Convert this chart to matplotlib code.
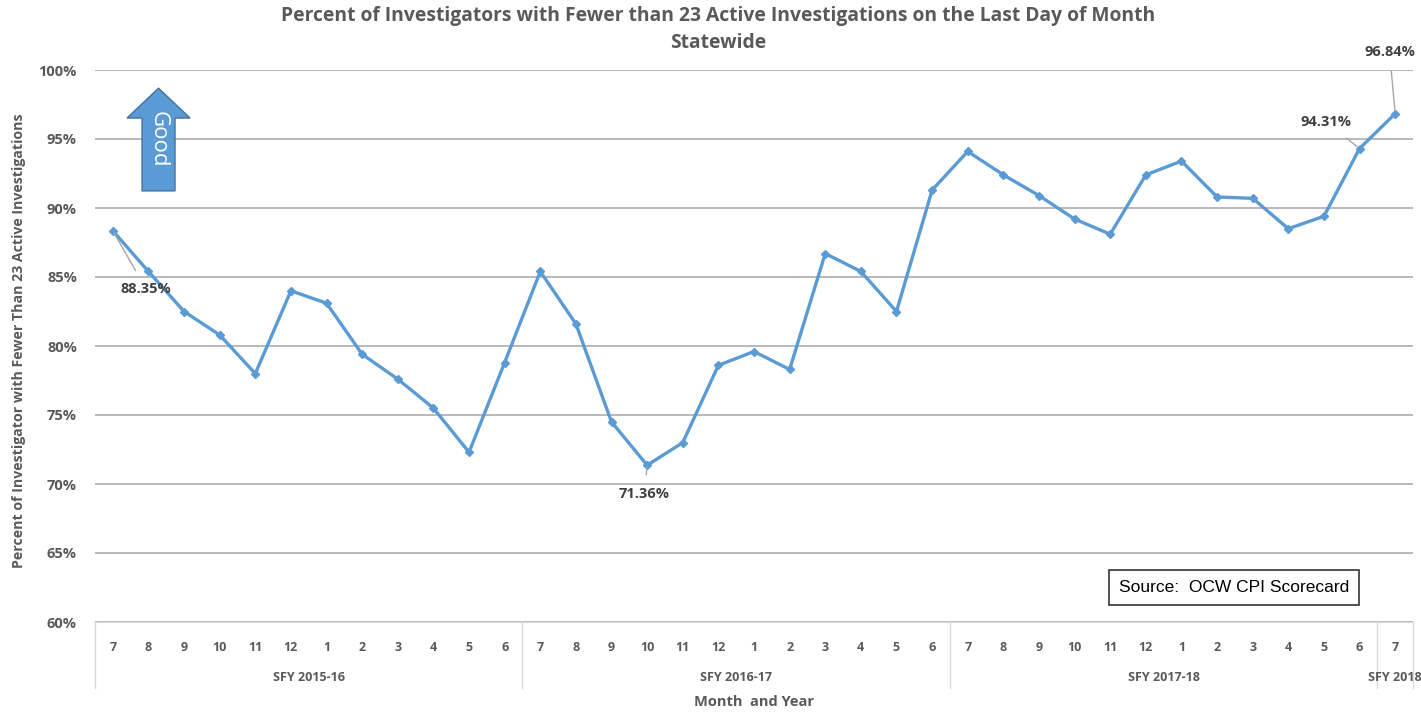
import matplotlib.pyplot as plt
import matplotlib.transforms as mtransforms
from matplotlib.patches import Polygon
import numpy as np

plt.rcParams['font.family'] = ['Open Sans', 'DejaVu Sans']

# === Data ===
months = ["7", "8", "9", "10", "11", "12", "1", "2", "3", "4", "5", "6"] * 3 + ["7"]
fiscal_years = ["SFY 2015-16", "SFY 2016-17", "SFY 2017-18", "SFY 2018"]
fy_sizes = [12, 12, 12, 1]
pct = [88.35, 85.4, 82.5, 80.8, 78.0, 84.0, 83.1, 79.4, 77.6, 75.5, 72.3, 78.8,
       85.4, 81.6, 74.5, 71.36, 73.0, 78.6, 79.6, 78.3, 86.7, 85.4, 82.5, 91.3,
       94.1, 92.4, 90.9, 89.2, 88.1, 92.4, 93.4, 90.8, 90.7, 88.5, 89.4, 94.31,
       96.84]
# label offsets (in data units) for the points that carry a data label
labelled = {0: (0.93, -4.2), 15: (-0.08, -2.1), 35: (-0.93, 1.9), 36: (-0.16, 4.5)}

GRAY_TXT = "#595959"
LINE_BLUE = "#5b9bd5"

fig = plt.figure(figsize=(14.21, 7.19), dpi=100)
ax = fig.add_axes([95 / 1421, 1 - 622 / 719, 1318 / 1421, 552 / 719])

x = np.arange(len(pct))
ax.plot(x, pct, color=LINE_BLUE, lw=2.4, marker="D", ms=4.5, zorder=3)

ax.set_xlim(-0.5, len(pct) - 0.5)
ax.set_ylim(60, 100)
ax.set_yticks(np.arange(60, 101, 5))
ax.set_yticklabels([f"{v}%" for v in range(60, 101, 5)], fontweight="bold",
                   color=GRAY_TXT, fontsize=10.5)
ax.grid(axis="y", color="#a6a6a6", lw=1.1)
ax.set_axisbelow(True)
for s in ["top", "right", "left"]:
    ax.spines[s].set_visible(False)
ax.spines["bottom"].set_color("#d9d9d9")
ax.tick_params(axis="y", length=0, pad=13)

ax.set_xticks(x)
ax.set_xticklabels(months, fontweight="bold", color=GRAY_TXT, fontsize=9)
ax.tick_params(axis="x", length=0, pad=14)

# fiscal year groups under the month labels
trans = mtransforms.blended_transform_factory(ax.transData, ax.transAxes)
start = -0.5
edges = [start]
for name, n in zip(fiscal_years, fy_sizes):
    mid = start + n / 2
    ax.text(mid, -0.1, name, transform=trans, ha="center", va="center",
            fontweight="bold", color=GRAY_TXT, fontsize=9)
    start += n
    edges.append(start)
for e in edges:
    ax.plot([e, e], [0, -0.12], transform=trans, color="#d9d9d9", lw=1, clip_on=False)

ax.set_xlabel("Month  and Year", fontweight="bold", color=GRAY_TXT, fontsize=10.5, labelpad=29)
ax.set_ylabel("Percent of Investigator with Fewer Than 23 Active Investigations",
              fontweight="bold", color=GRAY_TXT, fontsize=10.2)
ax.yaxis.set_label_coords(-0.0525, 0.51)

# data labels with leader lines
for i, (dx, dy) in labelled.items():
    ax.annotate(f"{pct[i]:.2f}%", xy=(i, pct[i]), xytext=(i + dx, pct[i] + dy),
                ha="center", va="center", fontweight="bold", color="#404040", fontsize=10.5,
                arrowprops=dict(arrowstyle="-", color="#a6a6a6", lw=1,
                                shrinkA=7, shrinkB=2))

# "Good" arrow
arrow = [(0.0357, 0.781), (0.0357, 0.913), (0.0243, 0.913), (0.0482, 0.967),
         (0.0721, 0.913), (0.0607, 0.913), (0.0607, 0.781)]
ax.add_patch(Polygon(arrow, closed=True, transform=ax.transAxes, facecolor=LINE_BLUE,
                     edgecolor="#41719c", lw=1, zorder=4))
ax.text(0.0482, 0.874, "Good", transform=ax.transAxes, rotation=-90, ha="center", va="center",
        color="white", fontsize=16, zorder=5)

# source box
ax.text(0.8642, 0.0625, "Source:  OCW CPI Scorecard", transform=ax.transAxes, ha="center",
        va="center", fontsize=12.5, family=["Liberation Sans", "DejaVu Sans"], color="black",
        bbox=dict(boxstyle="square,pad=0.55", facecolor="white", edgecolor="#333333", lw=1.2))

fig.text(718 / 1421, 1 - 16 / 719,
         "Percent of Investigators with Fewer than 23 Active Investigations on the Last Day of Month",
         ha="center", va="center", fontweight="bold", color=GRAY_TXT, fontsize=13.9)
fig.text(718 / 1421, 1 - 43 / 719, "Statewide", ha="center", va="center",
         fontweight="bold", color=GRAY_TXT, fontsize=13.9)

fig.savefig("out.png", dpi=100)
